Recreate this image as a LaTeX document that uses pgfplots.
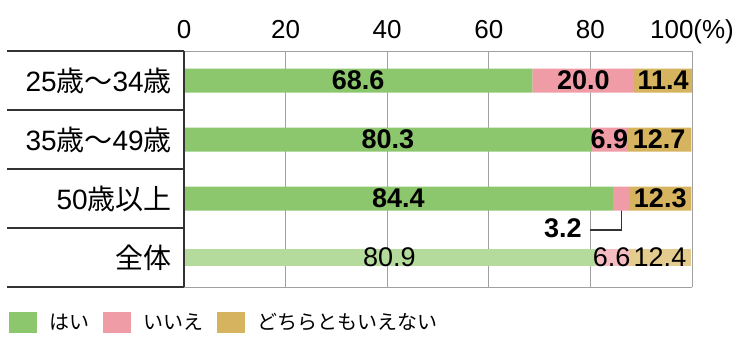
\documentclass[border=0pt]{standalone}
\usepackage{pgfplots}
\pgfplotsset{compat=1.18}
\usepackage{fontspec}
\setmainfont{Liberation Sans}
\newfontfamily\cjk{Noto Sans CJK JP}
\definecolor{cg}{HTML}{8CC76E}
\definecolor{cp}{HTML}{F09CA7}
\definecolor{ct}{HTML}{D6B35E}
\definecolor{lg}{HTML}{B4DA9C}
\definecolor{lp}{HTML}{F5BCC2}
\definecolor{lt}{HTML}{E4CB8E}
\definecolor{gl}{HTML}{A0A0A0}
\definecolor{dk}{HTML}{333333}
\pgfplotsset{sq legend/.style={legend image code/.code={\fill[##1] (0pt,-10.5pt) rectangle (28pt,10.5pt);}}}
\begin{document}
\begin{tikzpicture}[x=1pt,y=1pt]
\useasboundingbox (0,0) rectangle (740,360);
\begin{axis}[
  at={(184pt,73pt)}, anchor=south west,
  scale only axis, width=508pt, height=236pt,
  xbar stacked, bar width=24pt,
  xmin=0, xmax=100, ymin=-0.5, ymax=3.5,
  axis line style={draw=none},
  tick style={draw=none}, major tick length=0pt,
  xtick={0,20,40,60,80,100},
  xticklabels={0,20,40,60,80,100(\%)},
  xticklabel pos=upper,
  xmajorgrids, grid style={gl, line width=1pt},
  xticklabel style={font=\fontsize{26}{26}\selectfont, anchor=base, inner sep=0pt, yshift=13pt},
  ytick={0,1,2,3},
  yticklabels={{\cjk 全体},{50\cjk 歳以上},{35{\cjk 歳～}49{\cjk 歳}},{25{\cjk 歳～}34{\cjk 歳}}},
  yticklabel style={font=\fontsize{28}{28}\selectfont, anchor=east, inner sep=0pt, xshift=-12pt},
  clip=false,
  nodes near coords,
  point meta=explicit symbolic,
  every node near coord/.append style={anchor=center, inner sep=0pt, text=black, font=\bfseries\fontsize{27}{27}\selectfont},
  legend style={at={(-0.3445,-0.1504)}, anchor=west, draw=none, fill=none, inner sep=0pt, outer sep=0pt,
    legend columns=3, font=\fontsize{20}{20}\selectfont\cjk,
    nodes={inner sep=0pt},
    /tikz/every odd column/.append style={column sep=13pt},
    /tikz/every even column/.append style={column sep=13pt}},
  legend cell align=left,
]
\addplot[fill=cg, draw=none, sq legend] coordinates {(84.4,1) [84.4] (80.3,2) [80.3] (68.6,3) [68.6] (0,0) [\empty]};
\addplot[fill=cp, draw=none, sq legend] coordinates {(3.2,1) [\empty] (6.9,2) [6.9] (20.0,3) [20.0] (0,0) [\empty]};
\addplot[fill=ct, draw=none, sq legend] coordinates {(12.3,1) [12.3] (12.7,2) [12.7] (11.4,3) [11.4] (0,0) [\empty]};
\addplot[fill=lg, draw=none, bar width=17pt, every node near coord/.append style={font=\mdseries\fontsize{27}{27}\selectfont}] coordinates {(0,1) [\empty] (0,2) [\empty] (0,3) [\empty] (80.9,0) [80.9]};
\addplot[fill=lp, draw=none, bar width=17pt, every node near coord/.append style={font=\mdseries\fontsize{27}{27}\selectfont}] coordinates {(0,1) [\empty] (0,2) [\empty] (0,3) [\empty] (6.6,0) [6.6]};
\addplot[fill=lt, draw=none, bar width=17pt, every node near coord/.append style={font=\mdseries\fontsize{27}{27}\selectfont}] coordinates {(0,1) [\empty] (0,2) [\empty] (0,3) [\empty] (12.4,0) [12.4]};
\legend{はい,いいえ,どちらともいえない}
\fill[black] (axis cs:86.2,1) circle (2pt);
\draw[dk, line width=1.2pt] (axis cs:86.2,1) |- (axis cs:79.9,0.466);
\node[anchor=east, inner sep=0pt, font=\bfseries\fontsize{27}{27}\selectfont] at (axis cs:78.3,0.5) {3.2};
\end{axis}
\draw[gl, line width=1pt] (184,309) -- (692,309);
\draw[gl, line width=1pt] (184,73) -- (692,73);
\foreach \yy in {73,132,191,250,309} {\draw[dk, line width=1.3pt] (7,\yy) -- (184,\yy);}
\draw[dk, line width=1.3pt] (184,73) -- (184,309);
\end{tikzpicture}
\end{document}
